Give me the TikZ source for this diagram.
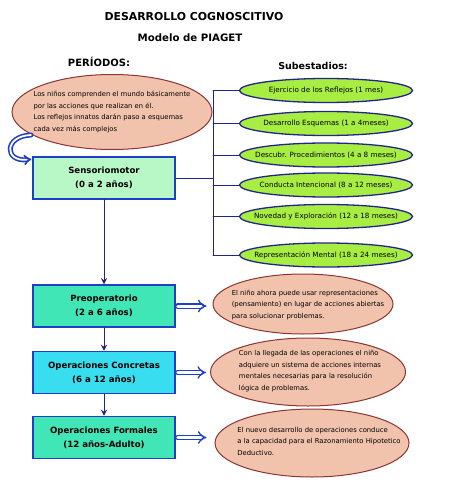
\documentclass[tikz,border=0pt]{standalone}
\usepackage{fontspec}
\setmainfont{DejaVu Sans}
\usetikzlibrary{arrows.meta,shapes.geometric}
\definecolor{navy}{HTML}{23238C}
\definecolor{boxblue}{HTML}{1F3FC8}
\definecolor{mint}{HTML}{B8F7C6}
\definecolor{aqua}{HTML}{40E6B6}
\definecolor{cyanbox}{HTML}{38DEF0}
\definecolor{limefill}{HTML}{A8EE42}
\definecolor{salmon}{HTML}{F1C3AC}
\definecolor{brownred}{HTML}{8E3434}

\begin{document}
\begin{tikzpicture}[x=1pt,y=-1pt,>={Stealth[length=6pt,width=6pt]},line cap=round,
  periodo/.style={draw=boxblue,line width=1.5pt,minimum width=142pt,minimum height=42pt,align=center,font=\fontsize{8.6}{14}\selectfont\bfseries},
  subestadio/.style={ellipse,draw=navy,line width=1.3pt,fill=limefill,minimum width=173pt,minimum height=24pt,inner xsep=-30pt,inner ysep=0pt,font=\fontsize{7.2}{8}\selectfont},
  nota/.style={ellipse,draw=brownred,line width=1pt,fill=salmon,inner sep=0pt},
  notatext/.style={align=left,font=\fontsize{6.8}{11.5}\selectfont},
  enlace/.style={draw=navy,line width=1pt},
  doble/.style={draw=boxblue,double=white,double distance=3pt,line width=1.3pt,-{Implies[scale=1.3]},shorten <=2pt}]
\useasboundingbox[fill=white] (0,0) rectangle (470,500);

% titulos
\node[font=\fontsize{10.9}{12}\selectfont\bfseries] (titulo) at (194,17) {DESARROLLO COGNOSCITIVO};
\node[font=\fontsize{10.2}{12}\selectfont\bfseries] (modelo) at (190,38) {Modelo de PIAGET};
\node[font=\fontsize{10}{11}\selectfont\bfseries] (periodos) at (99,62) {PERÍODOS:};
\node[font=\fontsize{9.5}{11}\selectfont\bfseries] (subest) at (313,66) {Subestadios:};

% periodos
\node[nota,minimum width=200pt,minimum height=75pt] (intro) at (112,112) {};
\node[notatext] at (intro) {Los niños comprenden el mundo básicamente\\por las acciones que realizan en él.\\Los reflejos innatos darán paso a esquemas\\cada vez más complejos};
\node[periodo,fill=mint] (sensorio) at (104,178) {Sensoriomotor\\(0 a 2 años)};
\node[periodo,fill=aqua] (preop) at (104,306) {Preoperatorio\\(2 a 6 años)};
\node[periodo,fill=cyanbox] (concretas) at (104,372.5) {Operaciones Concretas\\(6 a 12 años)};
\node[periodo,fill=aqua] (formales) at (104,437.5) {Operaciones Formales\\(12 años-Adulto)};

\draw[enlace,->] (sensorio) -- (preop);
\draw[enlace,->] (preop) -- (concretas);
\draw[enlace,->] (concretas) -- (formales);
\coordinate (inicio) at (31,135);
\coordinate (fin) at ([shift={(-1,3)}]sensorio.north west);
\draw[draw=boxblue,double=white,double distance=1.8pt,line width=1.6pt,-{Implies}] (inicio) .. controls (4,136) and (4,162) .. (fin);

% subestadios
\node[subestadio] (sub1) at (326,90.5) {Ejercicio de los Reflejos (1 mes)};
\node[subestadio] (sub2) at (326,123.5) {Desarrollo Esquemas (1 a 4meses)};
\node[subestadio] (sub3) at (326,155) {Descubr. Procedimientos (4 a 8 meses)};
\node[subestadio] (sub4) at (326,185) {Conducta Intencional (8 a 12 meses)};
\node[subestadio] (sub5) at (326,216.5) {Novedad y Exploración (12 a 18 meses)};
\node[subestadio] (sub6) at (326,255) {Representación Mental (18 a 24 meses)};

\coordinate (tronco) at (213,0);
\draw[enlace] (sensorio.east) -- (sensorio.east -| tronco);
\draw[enlace] (sub1.west -| tronco) -- (sub6.west -| tronco);
\foreach \s in {sub1,sub2,sub3,sub4,sub5,sub6}
  \draw[enlace] (\s.west -| tronco) -- (\s.west);

% descripciones
\node[nota,minimum width=180pt,minimum height=60pt] (nota1) at (303,304) {};
\node[notatext] at (308,305) {El niño ahora puede usar representaciones\\(pensamiento) en lugar de acciones abiertas\\para solucionar problemas.};
\node[nota,minimum width=195pt,minimum height=68pt] (nota2) at (308,372) {};
\node[notatext] at (310,371) {Con la llegada de las operaciones el niño\\adquiere un sistema de acciones internas\\mentales necesarias para la resolución\\lógica de problemas.};
\node[nota,minimum width=194pt,minimum height=68pt] (nota3) at (312,443) {};
\node[notatext] at (319,441) {El nuevo desarrollo de operaciones conduce\\a la capacidad para el Razonamiento Hipotetico\\Deductivo.};

\draw[doble,shorten >=6pt] (preop.east) -- (preop.east -| nota1.west);
\draw[doble,shorten >=4pt] (concretas.east) -- (concretas.east -| nota2.west);
\draw[doble,shorten >=8pt] (formales.east) -- (formales.east -| nota3.west);
\end{tikzpicture}
\end{document}
